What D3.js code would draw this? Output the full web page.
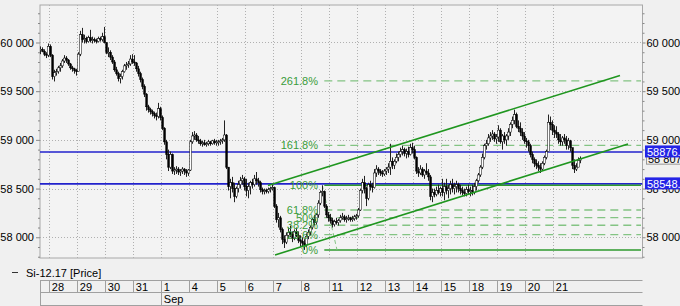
<!DOCTYPE html>
<html>
<head>
<meta charset="utf-8">
<script src="https://cdn.jsdelivr.net/npm/d3@7"></script>
<style>
body { margin: 0; background: #f0f0f0; }
svg { display: block; font-family: "Liberation Sans", Arial, sans-serif; font-size: 11px; }
</style>
</head>
<body>
<script>

// day cells of the time axis (the partial Aug 25 session comes first, unlabelled)
var dayLabels = ["28","29","30","31","1","4","5","6","7","8","11","12","13","14","15","18","19","20","21"];
var monthLabels = [["Sep", 4]];          // label, index in dayLabels
var leadBars = 5, barsPerDay = 14;
var yTicks = [58000, 58500, 59000, 59500, 60000];

// hourly bars: [high, low, close]; open = previous close
var firstOpen = 59930;
var bars = [
	// Aug 25
	[59960,59880,59930],[59950,59900,59910],[59930,59860,59880],[59900,59840,59870],[59990,59850,59960],
	// 28
	[59980,59850,59870],[59880,59620,59650],[59720,59600,59690],[59730,59660,59700],[59760,59680,59740],[59790,59700,59760],[59830,59740,59810],
	[59870,59790,59840],[59860,59790,59820],[59830,59760,59780],[59790,59720,59740],[59760,59700,59730],[59740,59680,59710],[59730,59660,59700],
	// 29
	[59900,59700,59880],[60120,59860,60080],[60150,60000,60030],[60080,59990,60040],[60060,59990,60010],[60070,60000,60050],[60130,60000,60020],
	[60060,59990,60030],[60050,60000,60020],[60040,59990,60010],[60060,60000,60040],[60060,60010,60030],[60100,60010,60060],[60160,59990,60000],
	// 30
	[60000,59880,59900],[59950,59850,59900],[59920,59820,59850],[59870,59780,59800],[59820,59700,59720],[59750,59660,59680],[59700,59600,59630],
	[59680,59580,59650],[59720,59620,59700],[59780,59690,59760],[59800,59720,59770],[59810,59740,59780],[59870,59760,59830],[59880,59780,59800],
	// 31
	[59870,59760,59790],[59800,59700,59730],[59760,59650,59680],[59700,59590,59620],[59640,59520,59550],[59570,59440,59470],[59480,59300,59340],
	[59360,59280,59310],[59330,59260,59290],[59310,59240,59270],[59290,59220,59250],[59280,59200,59240],[59380,59220,59320],[59340,59200,59230],
	// 1 Sep
	[59250,59100,59120],[59130,58950,58980],[59000,58800,58850],[58900,58680,58720],[58880,58700,58850],[58860,58650,58680],[58720,58640,58690],
	[58730,58650,58700],[58720,58640,58670],[58700,58630,58680],[58720,58650,58700],[58710,58640,58680],[58700,58620,58660],[58700,58630,58690],
	// 4
	[59000,58680,58980],[59080,58960,59040],[59090,59000,59050],[59070,58980,59000],[59040,58960,58990],[59010,58940,58960],[58990,58930,58970],
	[59000,58940,58950],[58980,58930,58960],[59000,58940,58980],[58990,58940,58960],[59000,58950,58990],[59010,58950,58970],[59000,58940,58980],
	// 5
	[59000,58940,58980],[59010,58950,58990],[59020,58960,59000],[59200,58980,59050],[59060,58700,58720],[58720,58480,58520],[58600,58400,58560],
	[58620,58460,58500],[58560,58360,58420],[58520,58400,58500],[58580,58460,58540],[58620,58500,58580],[58640,58540,58600],[58620,58480,58520],
	// 6
	[58600,58420,58480],[58560,58400,58520],[58580,58440,58560],[58600,58500,58540],[58640,58520,58600],[58670,58540,58580],[58610,58520,58560],
	[58580,58460,58490],[58510,58440,58470],[58500,58440,58480],[58500,58450,58470],[58510,58450,58490],[58520,58460,58500],[58540,58480,58510],
	// 7
	[58520,58300,58320],[58340,58150,58180],[58250,58100,58200],[58220,58050,58080],[58100,57930,57980],[58020,57890,57950],[58050,57930,58020],
	[58100,57990,58050],[58120,58000,58030],[58060,57950,57990],[58080,57970,58060],[58100,58000,58020],[58060,57940,57970],[58020,57900,57960],
	// 8
	[58000,57900,57940],[57980,57870,57920],[58040,57900,58010],[58080,57980,58050],[58120,58020,58100],[58200,58080,58180],[58230,58120,58150],
	[58250,58130,58230],[58380,58200,58350],[58480,58330,58460],[58533,58420,58470],[58480,58300,58320],[58340,58200,58230],[58260,58160,58200],
	// 11
	[58240,58140,58170],[58200,58100,58130],[58180,58110,58160],[58200,58130,58150],[58190,58120,58170],[58230,58150,58200],[58250,58180,58210],
	[58230,58160,58180],[58220,58150,58190],[58230,58170,58200],[58210,58160,58180],[58220,58160,58190],[58230,58170,58210],[58240,58180,58220],
	// 12
	[58300,58200,58280],[58500,58270,58480],[58600,58450,58560],[58630,58450,58500],[58520,58320,58400],[58560,58380,58540],[58580,58480,58520],
	[58560,58460,58510],[58700,58500,58660],[58740,58620,58700],[58720,58640,58680],[58700,58630,58660],[58690,58620,58650],[58700,58630,58680],
	// 13
	[58720,58640,58700],[58760,58660,58720],[58960,58640,58780],[58820,58700,58740],[58800,58700,58780],[58860,58760,58820],[58880,58780,58850],
	[58920,58820,58880],[58940,58840,58900],[58920,58830,58860],[58910,58810,58880],[58930,58820,58850],[58960,58840,58920],[58970,58860,58900],
	// 14
	[58940,58800,58820],[58830,58650,58680],[58720,58620,58660],[58740,58640,58700],[58720,58620,58640],[58700,58600,58680],[58760,58640,58660],
	[58700,58580,58620],[58640,58380,58420],[58500,58360,58460],[58500,58410,58440],[58520,58420,58480],[58540,58440,58460],[58520,58420,58500],
	// 15
	[58600,58420,58460],[58560,58380,58520],[58600,58440,58480],[58540,58400,58500],[58580,58440,58540],[58600,58460,58500],[58560,58440,58520],
	[58580,58460,58540],[58560,58460,58500],[58540,58440,58480],[58520,58430,58460],[58500,58420,58450],[58520,58420,58490],[58540,58440,58470],
	// 18
	[58520,58420,58480],[58540,58430,58460],[58560,58440,58520],[58600,58480,58580],[58660,58560,58640],[58740,58620,58720],[58860,58700,58820],
	[58960,58800,58940],[59000,58900,58960],[59060,58940,59020],[59080,58980,59040],[59100,59000,59060],[59080,58980,59010],[59060,58960,59030],
	// 19
	[59150,58980,59100],[59120,58960,58980],[59060,58900,59040],[59080,58960,59000],[59060,58940,59040],[59120,59000,59080],[59180,59040,59160],
	[59240,59120,59200],[59310,59160,59260],[59280,59120,59140],[59200,59080,59120],[59180,59040,59080],[59120,59000,59040],[59080,58960,58990],
	// 20
	[59020,58920,58980],[59000,58880,58940],[58960,58820,58850],[58880,58760,58800],[58820,58720,58760],[58800,58700,58740],[58780,58680,58720],
	[58760,58660,58700],[58780,58680,58760],[58840,58740,58820],[58900,58800,58880],[59260,58880,59180],[59240,59100,59160],[59200,59050,59100],
	// 21
	[59150,59020,59080],[59140,59020,59060],[59080,58960,59000],[59060,58940,58980],[59040,58940,59020],[59060,58960,59000],[59040,58900,58940],
	[59020,58900,58990],[59000,58880,58920],[58920,58700,58740],[58800,58660,58700],[58760,58680,58720],[58820,58720,58790],[58830,58760,58807]
];

var hLines = [58876, 58548];
var lastPrice = 58807;

// fibonacci retracement: drawn from the Sep 8 high to the low
var fibHigh = 58533, fibLow = 57870;
var fibLevels = [0, 23.6, 38.2, 50, 61.8, 100, 161.8, 261.8];
var fibDiag = [[141.5, 58533], [148.85, 57870]];   // [bar slot, price]
var fibStartSlot = 142.5;

// rising channel, [bar slot, price]
var channelUpper = [[114.35, 58531], [290.35, 59661]];
var channelLower = [[117.85, 57818], [294.35, 58958]];

var W = 680, H = 306;
var P = {l: 40, r: 642.5, t: 5, b: 258};

var svg = d3.select("body").append("svg").attr("width", W).attr("height", H);
svg.append("rect").attr("width", W).attr("height", H).attr("fill", "#f0f0f0");

var x = d3.scaleLinear().domain([0, 301.35]).range([39.3, 642]);
var y = d3.scaleLinear().domain([57787, 60385]).range([P.b, P.t]);

var loc = d3.formatLocale({decimal: ".", thousands: " ", grouping: [3], currency: ["", ""]});
var fmt = loc.format(",");

function dayStart(i) { return x(leadBars + barsPerDay * i); }

svg.append("defs").append("clipPath").attr("id", "plotclip")
	.append("rect").attr("x", P.l).attr("y", P.t).attr("width", P.r - P.l).attr("height", P.b - P.t);

// plot frame
svg.append("rect").attr("x", P.l).attr("y", P.t).attr("width", P.r - P.l).attr("height", P.b - P.t)
	.attr("fill", "#f3f3f3").attr("stroke", "#a8a8a8").attr("stroke-width", 1);

// grid
var grid = svg.append("g").attr("stroke", "#b0b0b0").attr("stroke-dasharray", "1,2");
grid.selectAll("line.v").data(dayLabels).enter().append("line")
	.attr("x1", function(d, i){ return Math.round(dayStart(i)) + 0.5 })
	.attr("x2", function(d, i){ return Math.round(dayStart(i)) + 0.5 })
	.attr("y1", P.t).attr("y2", P.b);
grid.selectAll("line.h").data(yTicks).enter().append("line")
	.attr("x1", P.l).attr("x2", P.r)
	.attr("y1", function(d){ return Math.round(y(d)) + 0.5 })
	.attr("y2", function(d){ return Math.round(y(d)) + 0.5 });

// axes
var minor = d3.range(57800, 60400, 100).filter(function(v){ return yTicks.indexOf(v) < 0 });
svg.append("g").attr("transform", "translate(" + P.l + ",0)")
	.call(d3.axisLeft(y).tickValues(minor).tickSize(2).tickFormat(""));
svg.append("g").attr("transform", "translate(" + P.l + ",0)")
	.call(d3.axisLeft(y).tickValues(yTicks).tickSize(4).tickPadding(2).tickFormat(fmt));
svg.append("g").attr("transform", "translate(" + P.r + ",0)")
	.call(d3.axisRight(y).tickValues(minor).tickSize(2).tickFormat(""));
svg.append("g").attr("transform", "translate(" + P.r + ",0)")
	.call(d3.axisRight(y).tickValues(yTicks).tickSize(3).tickPadding(1).tickFormat(fmt));
svg.selectAll(".domain").remove();
svg.selectAll(".tick line").attr("stroke", "#888");
svg.selectAll(".tick text").attr("fill", "#000").style("font-size", "11px")
	.style("font-family", "\"Liberation Sans\", Arial, sans-serif");

var plot = svg.append("g").attr("clip-path", "url(#plotclip)");

// blue horizontal lines
plot.selectAll("line.hl").data(hLines).enter().append("line")
	.attr("x1", P.l).attr("x2", P.r)
	.attr("y1", function(d){ return y(d) }).attr("y2", function(d){ return y(d) })
	.attr("stroke", "#2222cc").attr("stroke-width", 1.6);

// fibonacci levels
var fibY = function(l){ return y(fibLow + (fibHigh - fibLow) * l / 100) };
plot.selectAll("line.fib").data(fibLevels).enter().append("line")
	.attr("x1", x(fibStartSlot)).attr("x2", 641)
	.attr("y1", fibY).attr("y2", fibY)
	.attr("stroke", function(d){ return (d == 0 || d == 100) ? "#2e9a2e" : "#84c484" })
	.attr("stroke-width", function(d){ return (d == 0 || d == 100) ? 1.5 : 1.3 })
	.attr("stroke-dasharray", function(d){ return (d == 0 || d == 100) ? null : "8,5" });
plot.append("line")
	.attr("x1", x(fibDiag[0][0])).attr("y1", y(fibDiag[0][1]))
	.attr("x2", x(fibDiag[1][0])).attr("y2", y(fibDiag[1][1]))
	.attr("stroke", "#84c484").attr("stroke-width", 1).attr("stroke-dasharray", "4,3");

// candles
var candles = plot.append("g");
bars.forEach(function(d, i){
	var o = i ? bars[i - 1][2] : firstOpen;
	var s = Math.floor(x(i));
	candles.append("line")
		.attr("x1", s + 1.5).attr("x2", s + 1.5)
		.attr("y1", y(d[0])).attr("y2", y(d[1]))
		.attr("stroke", "#222").attr("stroke-width", 1);
	var top = y(Math.max(o, d[2])), bot = y(Math.min(o, d[2]));
	candles.append("rect")
		.attr("x", s + 0.7).attr("width", 1.8)
		.attr("y", top).attr("height", Math.max(1, bot - top))
		.attr("fill", d[2] >= o ? "#ffffff" : "#000000")
		.attr("stroke", "#000").attr("stroke-width", 0.5);
});

// channel
var line = d3.line().x(function(d){ return x(d[0]) }).y(function(d){ return y(d[1]) });
[channelUpper, channelLower].forEach(function(c){
	plot.append("path").attr("d", line(c))
		.attr("fill", "none").attr("stroke", "#1f961f").attr("stroke-width", 1.6);
});

// fib labels
svg.selectAll("text.fib").data(fibLevels).enter().append("text")
	.attr("x", 318).attr("y", function(d){ return fibY(d) + 4 })
	.attr("text-anchor", "end").attr("fill", "#3a9c3a")
	.text(function(d){ return d + "%" });

// right-side price labels
var lp = y(lastPrice);
svg.append("rect").attr("x", 646.5).attr("y", lp - 6.5).attr("width", 40).attr("height", 12)
	.attr("fill", "#f0f0f0").attr("stroke", "#999");
svg.append("text").attr("x", 648).attr("y", lp + 4).text(fmt(lastPrice));
svg.selectAll("rect.lab").data(hLines).enter().append("rect")
	.attr("x", 645).attr("y", function(d){ return y(d) - 6.5 })
	.attr("width", 40).attr("height", 12).attr("fill", "#2424e6");
svg.selectAll("text.lab").data(hLines).enter().append("text")
	.attr("x", 647).attr("y", function(d){ return y(d) + 4 })
	.attr("fill", "#fff").text(function(d){ return d + "." });

// legend
svg.append("line").attr("x1", 12).attr("x2", 18).attr("y1", 272.5).attr("y2", 272.5)
	.attr("stroke", "#333");
svg.append("text").attr("x", 26).attr("y", 276.5).text("Si-12.17 [Price]");

// time axis
var ta = svg.append("g").attr("stroke", "#a0a0a0");
[280.5, 292.5, 305.5].forEach(function(yy){
	ta.append("line").attr("x1", P.l).attr("x2", P.r).attr("y1", yy).attr("y2", yy);
});
ta.append("line").attr("x1", P.l + 0.5).attr("x2", P.l + 0.5).attr("y1", 280).attr("y2", 306);
ta.selectAll("line.d").data(dayLabels).enter().append("line")
	.attr("x1", function(d, i){ return Math.round(dayStart(i)) + 0.5 })
	.attr("x2", function(d, i){ return Math.round(dayStart(i)) + 0.5 })
	.attr("y1", 280).attr("y2", 292.5);
ta.selectAll("line.m").data(monthLabels).enter().append("line")
	.attr("x1", function(d){ return Math.round(dayStart(d[1])) + 0.5 })
	.attr("x2", function(d){ return Math.round(dayStart(d[1])) + 0.5 })
	.attr("y1", 292.5).attr("y2", 306);
svg.selectAll("text.day").data(dayLabels).enter().append("text")
	.attr("x", function(d, i){ return dayStart(i) + 2.5 }).attr("y", 290.5)
	.text(function(d){ return d });
svg.selectAll("text.mon").data(monthLabels).enter().append("text")
	.attr("x", function(d){ return dayStart(d[1]) + 2.5 }).attr("y", 303)
	.text(function(d){ return d[0] });

</script>
</body>
</html>
